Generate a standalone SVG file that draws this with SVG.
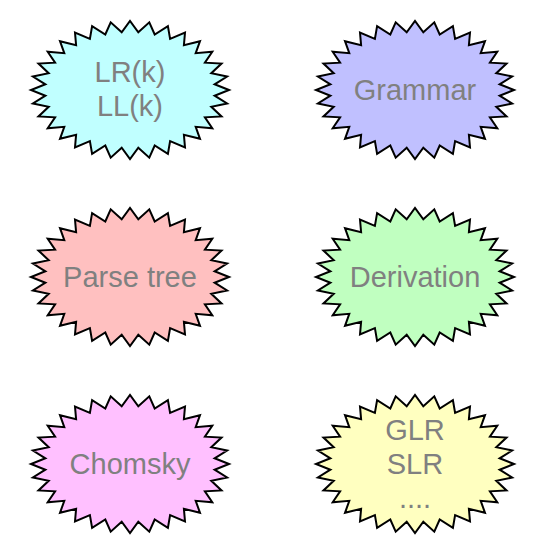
<svg xmlns="http://www.w3.org/2000/svg" xmlns:xlink="http://www.w3.org/1999/xlink" width="538" height="557" viewBox="0 0 538 557">
<style>
.burst{stroke:#000;stroke-width:2;stroke-linejoin:miter}
.lbl{font-family:"Liberation Sans",Arial,sans-serif;font-size:29px;fill:#808080;text-anchor:middle}
</style>
<defs>
<polygon id="star" points="99,0 84.6,-5.7 97.1,-13.5 81.3,-16.8 91.5,-26.4 74.9,-27.3 82.3,-38.3 65.7,-36.8 70,-48.8 53.9,-44.8 55,-57.4 40.1,-51.1 37.9,-63.8 24.7,-55.5 19.3,-67.7 8.3,-57.7 0,-69 -8.3,-57.7 -19.3,-67.7 -24.7,-55.5 -37.9,-63.8 -40.1,-51.1 -55,-57.4 -53.9,-44.8 -70,-48.8 -65.7,-36.8 -82.3,-38.3 -74.9,-27.3 -91.5,-26.4 -81.3,-16.8 -97.1,-13.5 -84.6,-5.7 -99,0 -84.6,5.7 -97.1,13.5 -81.3,16.8 -91.5,26.4 -74.9,27.3 -82.3,38.3 -65.7,36.8 -70,48.8 -53.9,44.8 -55,57.4 -40.1,51.1 -37.9,63.8 -24.7,55.5 -19.3,67.7 -8.3,57.7 0,69 8.3,57.7 19.3,67.7 24.7,55.5 37.9,63.8 40.1,51.1 55,57.4 53.9,44.8 70,48.8 65.7,36.8 82.3,38.3 74.9,27.3 91.5,26.4 81.3,16.8 97.1,13.5 84.6,5.7"/>
</defs>
<rect width="538" height="557" fill="#fff"/>
<g id="connectors"/>
<g id="lrk">
<use xlink:href="#star" href="#star" class="burst" fill="#c0ffff" x="130" y="90"/>
<text class="lbl" x="130" y="82">LR(k)</text>
<text class="lbl" x="130" y="116">LL(k)</text>
</g>
<g id="grammar">
<use xlink:href="#star" href="#star" class="burst" fill="#c0c0ff" x="415" y="90"/>
<text class="lbl" x="415" y="100">Grammar</text>
</g>
<g id="parsetree">
<use xlink:href="#star" href="#star" class="burst" fill="#ffc0c0" x="130" y="277"/>
<text class="lbl" x="130" y="287">Parse tree</text>
</g>
<g id="derivation">
<use xlink:href="#star" href="#star" class="burst" fill="#c0ffc0" x="415" y="277"/>
<text class="lbl" x="415" y="287">Derivation</text>
</g>
<g id="chomsky">
<use xlink:href="#star" href="#star" class="burst" fill="#ffc0ff" x="130" y="464"/>
<text class="lbl" x="130" y="474">Chomsky</text>
</g>
<g id="glr">
<use xlink:href="#star" href="#star" class="burst" fill="#ffffc0" x="415" y="464"/>
<text class="lbl" x="415" y="440">GLR</text>
<text class="lbl" x="415" y="474">SLR</text>
<text class="lbl" x="415" y="508">....</text>
</g>
</svg>
